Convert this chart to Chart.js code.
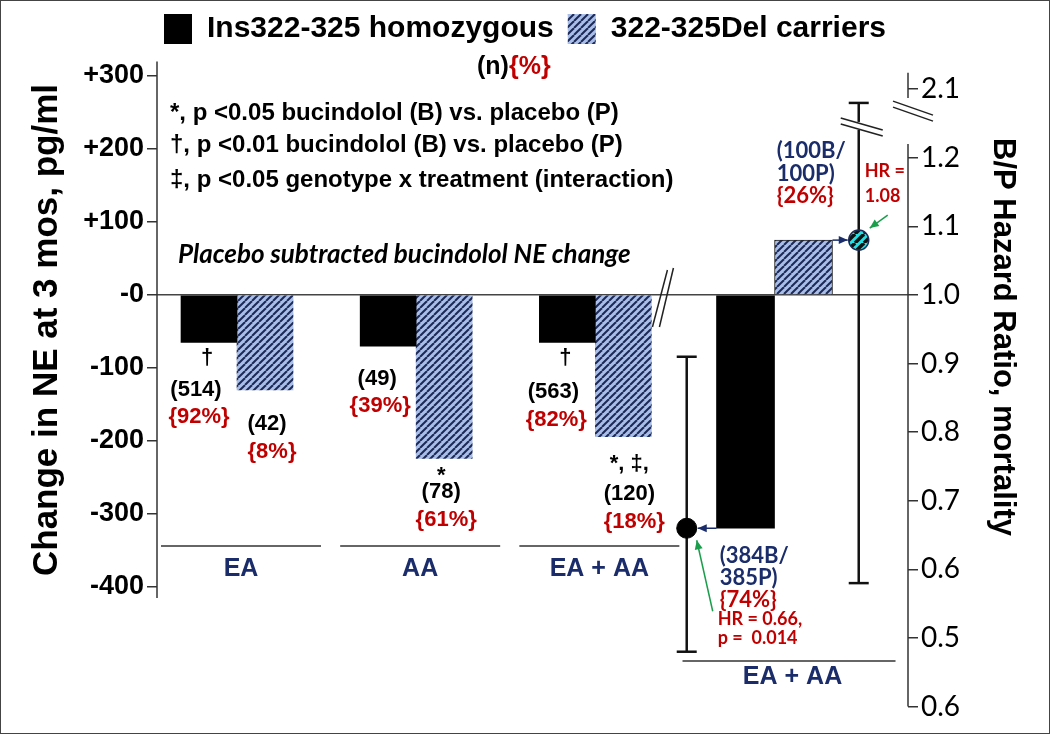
<!DOCTYPE html>
<html lang="en">
<head>
  <meta charset="UTF-8">
  <title>NE change and B/P hazard ratio by ADRA2C genotype</title>
  <style>
    body { margin: 0; padding: 0; background: #fff; }
    #chart { display: block; }
  </style>
</head>
<body>
  <canvas id="chart" width="1050" height="734"></canvas>

  <script src="https://cdn.jsdelivr.net/npm/chart.js"></script>
  <script>
    // Placebo subtracted NE change at 3 months, pg/ml
    const groups = ['EA', 'AA', 'EA + AA'];
    const groupSlots = [1, 2, 3];
    const neIns = [-65, -70, -65];
    const neDel = [-130, -224, -194];
    const nIns = [514, 49, 563];
    const pctIns = [92, 39, 82];
    const nDel = [42, 78, 120];
    const pctDel = [8, 61, 18];
    const sigIns = ['†', '', '†'];
    const sigDel = ['', '*', '*, ‡,'];

    // B/P mortality hazard ratio (EA + AA): Ins homozygous, Del carriers
    const hrGroup = 'EA + AA';
    const hrSlot = 4;
    const hrValues = [0.66, 1.08];
    const hrLow = [0.48, 0.58];
    const hrHigh = [0.91, 2.08];
    const hrMarkerSlots = [3.51, 4.47];
    const hrCounts = [['(384B/', '385P)'], ['(100B/', '100P)']];
    const hrPct = [74, 26];
    const hrPValue = '0.014';

    const leftTicks = [300, 200, 100, 0, -100, -200, -300, -400];
    const leftTickLabels = ['+300', '+200', '+100', '-0', '-100', '-200', '-300', '-400'];
    const rightTicks = [1.3, 1.2, 1.1, 1.0, 0.9, 0.8, 0.7, 0.6, 0.5, 0.4];
    const rightTickLabels = ['2.1', '1.2', '1.1', '1.0', '0.9', '0.8', '0.7', '0.6', '0.5', '0.6'];
    const hrBreakShift = 0.8; // values above the axis break are drawn this much lower

    const RED = '#c00000', NAVY = '#1a2d6a', GREEN = '#1b9e4b', INK = '#111';
    const SANS = '"Liberation Sans", Arial, sans-serif';
    const CAL = 'Lato, "Open Sans", sans-serif';

    const canvas = document.getElementById('chart');
    const ctx = canvas.getContext('2d');

    function makeStripes(bg, fg, size, width) {
      const c = document.createElement('canvas');
      c.width = size;
      c.height = size;
      const g = c.getContext('2d');
      g.fillStyle = bg;
      g.fillRect(0, 0, size, size);
      g.strokeStyle = fg;
      g.lineWidth = width;
      for (let k = -1; k <= 1; k++) {
        g.beginPath();
        g.moveTo(k * size, size);
        g.lineTo(k * size + size, 0);
        g.stroke();
      }
      return ctx.createPattern(c, 'repeat');
    }

    const hatch = makeStripes('#a9bfea', '#1d2a57', 7, 2);
    const cyanHatch = makeStripes('#27e0e6', '#111', 9, 3.5);

    function hrDisplay(v) {
      return v > 1.25 ? v - hrBreakShift : v;
    }

    function text(s, x, y, font, color, align) {
      ctx.font = font;
      ctx.fillStyle = color;
      ctx.textAlign = align || 'center';
      ctx.textBaseline = 'middle';
      ctx.fillText(s, x, y);
    }

    function line(x1, y1, x2, y2, color, width) {
      ctx.strokeStyle = color;
      ctx.lineWidth = width;
      ctx.beginPath();
      ctx.moveTo(x1, y1);
      ctx.lineTo(x2, y2);
      ctx.stroke();
    }

    function arrow(x1, y1, x2, y2, color) {
      line(x1, y1, x2, y2, color, 1.5);
      const a = Math.atan2(y2 - y1, x2 - x1);
      ctx.fillStyle = color;
      ctx.beginPath();
      ctx.moveTo(x2, y2);
      ctx.lineTo(x2 - 9 * Math.cos(a) + 4 * Math.sin(a), y2 - 9 * Math.sin(a) - 4 * Math.cos(a));
      ctx.lineTo(x2 - 9 * Math.cos(a) - 4 * Math.sin(a), y2 - 9 * Math.sin(a) + 4 * Math.cos(a));
      ctx.closePath();
      ctx.fill();
    }

    // label placement under each bar: [sig, n, pct] offsets from the bar end
    const insLabelDy = [[15, 47, 74], [null, 33, 60], [15, 49, 77]];
    const insLabelDx = [-13, -11, -14];
    const delLabelDy = [[null, 34, 62], [17, 33, 61], [27, 57, 85]];
    const delLabelDx = [2, -3, 6];

    const decor = {
      id: 'decor',
      beforeDraw(chart) {
        const c = chart.ctx;
        c.save();
        c.fillStyle = '#fff';
        c.fillRect(0, 0, chart.width, chart.height);
        c.restore();
      },
      beforeDatasetsDraw(chart) {
        const y2 = chart.scales.y2;
        const pts = chart.getDatasetMeta(4).data;
        ctx.save();
        pts.forEach((p, i) => {
          const top = y2.getPixelForValue(hrDisplay(hrHigh[i]));
          const bot = y2.getPixelForValue(hrLow[i]);
          line(p.x, top, p.x, bot, INK, 2.5);
          line(p.x - 10, top, p.x + 10, top, INK, 2.5);
          line(p.x - 10, bot, p.x + 10, bot, INK, 2.5);
        });
        ctx.restore();
      },
      afterDraw(chart) {
        const {x, y, y2} = chart.scales;
        ctx.save();

        // axis lines
        line(y.right, y.getPixelForValue(320), y.right, y.getPixelForValue(-415), '#333', 1.5);
        line(y2.left, y2.getPixelForValue(1.22), y2.left, y2.getPixelForValue(0.4), '#333', 1.5);
        line(y2.left, y2.getPixelForValue(1.324), y2.left, y2.getPixelForValue(1.287), '#333', 1.5);

        // axis break marks
        const rb = y2.getPixelForValue(1.268);
        line(y2.left - 15, rb - 10, y2.left + 25, rb + 4, '#222', 1.5);
        line(y2.left - 15, rb - 4, y2.left + 25, rb + 10, '#222', 1.5);

        const bx = x.getPixelForValue(3.38), by = y.getPixelForValue(0);
        line(bx - 11, by + 32, bx + 4, by - 25, '#222', 1.5);
        line(bx - 4, by + 32, bx + 10, by - 27, '#222', 1.5);

        const pts = chart.getDatasetMeta(4).data;
        const wx = pts[1].x, wy = y2.getPixelForValue(1.245);
        ctx.fillStyle = '#fff';
        ctx.fillRect(wx - 3, wy - 5, 6, 8);
        line(wx - 18, wy - 9, wx + 24, wy + 3, '#222', 1.5);
        line(wx - 18, wy - 3, wx + 24, wy + 9, '#222', 1.5);

        // axis titles
        ctx.save();
        ctx.translate(47, 330);
        ctx.rotate(-Math.PI / 2);
        text('Change in NE at 3 mos, pg/ml', 0, 0, 'bold 35px ' + SANS, '#000');
        ctx.restore();
        ctx.save();
        ctx.translate(1003, 337);
        ctx.rotate(Math.PI / 2);
        text('B/P Hazard Ratio, mortality', 0, 0, 'bold 31px ' + SANS, '#000');
        ctx.restore();

        // (n){%} key and significance notes
        ctx.font = 'bold 25px ' + SANS;
        const nw = ctx.measureText('(n)').width;
        text('(n)', 477, 67, 'bold 25px ' + SANS, '#000', 'left');
        text('{%}', 477 + nw, 67, 'bold 25px ' + SANS, RED, 'left');
        text('*, p <0.05 bucindolol (B) vs. placebo (P)', 170, 113, 'bold 24px ' + SANS, '#000', 'left');
        text('†, p <0.01 bucindolol (B) vs. placebo (P)', 170, 145, 'bold 24px ' + SANS, '#000', 'left');
        text('‡, p <0.05 genotype x treatment (interaction)', 170, 180, 'bold 24px ' + SANS, '#000', 'left');
        text('Placebo subtracted bucindolol NE change', 178, 255, 'italic bold 26px ' + CAL, '#000', 'left');

        // labels under the NE bars
        const insBars = chart.getDatasetMeta(0).data;
        const delBars = chart.getDatasetMeta(1).data;
        const f = 'bold 22px ' + SANS;
        insBars.forEach((b, i) => {
          const d = insLabelDy[i], dx = insLabelDx[i];
          if (sigIns[i]) text(sigIns[i], b.x - 2, b.y + d[0], f, '#000');
          text('(' + nIns[i] + ')', b.x + dx, b.y + d[1], f, '#000');
          text('{' + pctIns[i] + '%}', b.x + dx + 3, b.y + d[2], f, RED);
        });
        delBars.forEach((b, i) => {
          const d = delLabelDy[i], dx = delLabelDx[i];
          if (sigDel[i]) text(sigDel[i], b.x + dx, b.y + d[0], f, '#000');
          text('(' + nDel[i] + ')', b.x + dx, b.y + d[1], f, '#000');
          text('{' + pctDel[i] + '%}', b.x + dx + 5, b.y + d[2], f, RED);
        });

        // group baselines and names
        groupSlots.forEach((s, i) => {
          const cx = x.getPixelForValue(s);
          line(cx - 76, 546, cx + 84, 546, '#333', 1.5);
          text(groups[i], cx + 4, 569, 'bold 25px ' + SANS, NAVY);
        });
        const hx = x.getPixelForValue(hrSlot);
        line(hx - 92, 661, hx + 121, 661, '#333', 1.5);
        text(hrGroup, hx + 18, 677, 'bold 25px ' + SANS, NAVY);

        // hazard ratio notes and arrows
        const p0 = pts[0], p1 = pts[1];
        const hrBarIns = chart.getDatasetMeta(2).data[0];
        const hrBarDel = chart.getDatasetMeta(3).data[0];
        const fc = 'bold 22px ' + CAL, fs = 'bold 18px ' + CAL;

        text(hrCounts[1][0], p1.x - 82, p1.y - 89, fc, NAVY, 'left');
        text(hrCounts[1][1], p1.x - 82, p1.y - 66, fc, NAVY, 'left');
        text('{' + hrPct[1] + '%}', p1.x - 82, p1.y - 44, fc, RED, 'left');
        text('HR =', p1.x + 6, p1.y - 69, fs, RED, 'left');
        text(hrValues[1].toFixed(2), p1.x + 6, p1.y - 44, fs, RED, 'left');
        arrow(hrBarDel.x + hrBarDel.width / 2, p1.y, p1.x - 11, p1.y, NAVY);
        arrow(p1.x + 29, p1.y - 25, p1.x + 11, p1.y - 12, GREEN);

        text(hrCounts[0][0], p0.x + 33, p0.y + 28, fc, NAVY, 'left');
        text(hrCounts[0][1], p0.x + 33, p0.y + 50, fc, NAVY, 'left');
        text('{' + hrPct[0] + '%}', p0.x + 33, p0.y + 72, fc, RED, 'left');
        text('HR = ' + hrValues[0].toFixed(2) + ',', p0.x + 31, p0.y + 91, fs, RED, 'left');
        text('p =  ' + hrPValue, p0.x + 31, p0.y + 110, fs, RED, 'left');
        arrow(hrBarIns.x - hrBarIns.width / 2, p0.y, p0.x + 11, p0.y, NAVY);
        arrow(p0.x + 26, p0.y + 83, p0.x + 10, p0.y + 12, GREEN);

        // frame
        ctx.strokeStyle = '#444';
        ctx.lineWidth = 1;
        ctx.strokeRect(0.5, 0.5, chart.width - 1, chart.height - 1);
        ctx.restore();
      }
    };

    // chart area sits at top 54, bottom 714; zero / 1.0 line at 295
    const areaTop = 54, areaBottom = 714, zeroPx = 295;
    const nePx = 0.73, hrPx = 686;

    new Chart(ctx, {
      type: 'bar',
      data: {
        datasets: [
          {
            label: 'Ins322-325 homozygous',
            data: groupSlots.map((s, i) => ({x: s, y: neIns[i]})),
            backgroundColor: '#000',
            borderWidth: 0,
            stack: 'ins',
            yAxisID: 'y',
            barThickness: 56
          },
          {
            label: '322-325Del carriers',
            data: groupSlots.map((s, i) => ({x: s, y: neDel[i]})),
            backgroundColor: hatch,
            borderWidth: 0,
            stack: 'del',
            yAxisID: 'y',
            barThickness: 56
          },
          {
            label: 'HR Ins322-325 homozygous',
            data: [{x: hrSlot, y: hrValues[0]}],
            base: 1,
            backgroundColor: '#000',
            borderWidth: 0,
            stack: 'ins',
            yAxisID: 'y2',
            barThickness: 58
          },
          {
            label: 'HR 322-325Del carriers',
            data: [{x: hrSlot, y: hrValues[1]}],
            base: 1,
            backgroundColor: hatch,
            borderColor: '#222',
            borderWidth: 1,
            stack: 'del',
            yAxisID: 'y2',
            barThickness: 58
          },
          {
            type: 'scatter',
            label: 'HR point',
            data: hrMarkerSlots.map((s, i) => ({x: s, y: hrValues[i]})),
            yAxisID: 'y2',
            pointRadius: 10,
            pointBackgroundColor: ['#000', cyanHatch],
            pointBorderColor: ['#000', '#1d2a57'],
            pointBorderWidth: [1, 1.5]
          }
        ]
      },
      options: {
        responsive: false,
        animation: false,
        devicePixelRatio: 1,
        layout: { padding: { top: 0, bottom: 20, left: 0, right: 0 } },
        plugins: {
          legend: {
            position: 'top',
            labels: {
              filter: item => item.datasetIndex < 2,
              boxWidth: 28,
              boxHeight: 30,
              padding: 14,
              color: '#000',
              font: { family: SANS, size: 30, weight: 'bold' }
            }
          },
          tooltip: { enabled: false }
        },
        scales: {
          x: { type: 'linear', display: false, min: 0.5535, max: 4.745, offset: false },
          y: {
            position: 'left',
            min: -(areaBottom - zeroPx) / nePx,
            max: (zeroPx - areaTop) / nePx,
            afterFit: s => { s.width = 157; },
            afterBuildTicks: s => { s.ticks = leftTicks.map(v => ({value: v})); },
            ticks: {
              autoSkip: false,
              padding: 3,
              color: '#000',
              font: { family: SANS, size: 27, weight: 'bold' },
              callback: (v, i) => leftTickLabels[i]
            },
            grid: {
              color: c => (c.tick && c.tick.value === 0) ? '#444' : 'rgba(0,0,0,0)',
              tickColor: '#333',
              tickLength: 10,
              lineWidth: 1.5
            },
            border: { display: false }
          },
          y2: {
            position: 'right',
            min: 1 - (areaBottom - zeroPx) / hrPx,
            max: 1 + (zeroPx - areaTop) / hrPx,
            afterFit: s => { s.width = 142; },
            afterBuildTicks: s => { s.ticks = rightTicks.map(v => ({value: v})); },
            ticks: {
              autoSkip: false,
              padding: 3,
              color: '#000',
              font: { family: CAL, size: 28 },
              callback: (v, i) => rightTickLabels[i]
            },
            grid: { drawOnChartArea: false, tickColor: '#333', tickLength: 10, lineWidth: 1.5 },
            border: { display: false }
          }
        }
      },
      plugins: [decor]
    });
  </script>
</body>
</html>
